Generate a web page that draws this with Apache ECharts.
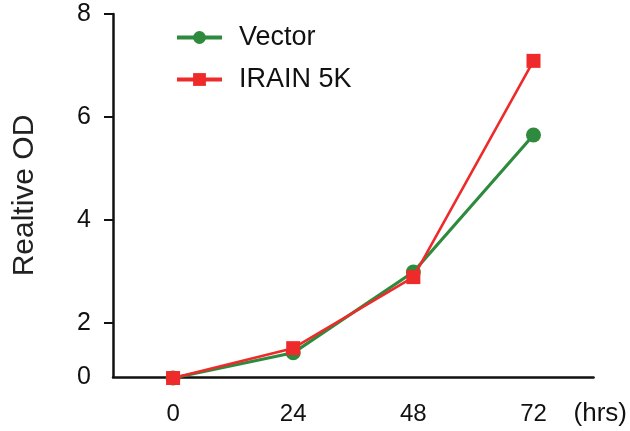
<!DOCTYPE html>
<html>
<head>
<meta charset="utf-8">
<script src="https://cdn.jsdelivr.net/npm/echarts@6/dist/echarts.min.js"></script>
<style>
  html, body { margin: 0; padding: 0; background: #fff; }
  #chart { width: 630px; height: 431px; }
</style>
</head>
<body>
<div id="chart"></div>
<script>
// hours after seeding
const hours = ['0', '24', '48', '72']
// relative OD
const vectorValues = [0.93, 1.42, 2.99, 5.65]
const iraincValues = [0.93, 1.51, 2.89, 7.09]
// y tick labels (bottom of axis is labelled 0)
const yTickValues = [2, 4, 6, 8]
const yAxisBottom = 0.95

const myChart = echarts.init(document.getElementById('chart'))
const option = {
  animation: false,
  grid: {
    left: 113,
    top: 14,
    width: 482,
    height: 363
  },
  legend: {
    orient: 'vertical',
    left: 175,
    top: 24,
    padding: 0,
    itemWidth: 45,
    itemHeight: 16,
    itemGap: 15,
    lineStyle: { width: 4 },
    textStyle: {
      fontFamily: 'Liberation Sans',
      fontSize: 27,
      color: '#111',
      padding: [0, 0, 0, 12]
    },
    data: ['Vector', 'IRAIN 5K']
  },
  xAxis: {
    type: 'category',
    boundaryGap: true,
    data: hours,
    name: '(hrs)',
    nameLocation: 'end',
    nameGap: -20,
    nameTextStyle: {
      fontFamily: 'Liberation Sans',
      fontSize: 26,
      color: '#111',
      align: 'left',
      verticalAlign: 'top',
      padding: [24, 0, 0, 0]
    },
    axisLine: { lineStyle: { color: '#111', width: 2.5 } },
    axisTick: {
      alignWithLabel: true,
      length: 10,
      interval: (i) => i > 0,
      lineStyle: { color: '#111', width: 2 }
    },
    axisLabel: {
      margin: 25,
      fontFamily: 'Liberation Sans',
      fontSize: 24,
      color: '#111'
    },
    splitLine: { show: false }
  },
  yAxis: {
    type: 'value',
    min: yAxisBottom,
    max: 8,
    name: 'Realtive OD',
    nameLocation: 'middle',
    nameGap: 73,
    nameTextStyle: {
      fontFamily: 'Liberation Sans',
      fontSize: 30,
      color: '#222'
    },
    axisLine: { show: true, lineStyle: { color: '#111', width: 2.5 } },
    axisTick: {
      show: true,
      length: 9,
      customValues: yTickValues,
      lineStyle: { color: '#111', width: 2 }
    },
    axisLabel: {
      margin: 22,
      fontFamily: 'Liberation Sans',
      fontSize: 25,
      color: '#111',
      customValues: [yAxisBottom].concat(yTickValues),
      formatter: v => (v < 1 ? '0' : String(v))
    },
    splitLine: { show: false }
  },
  series: [
    {
      name: 'Vector',
      type: 'line',
      data: vectorValues,
      clip: false,
      symbol: 'circle',
      symbolSize: 15,
      lineStyle: { color: '#2e8a3d', width: 3.2 },
      itemStyle: { color: '#2e8a3d' },
      z: 2
    },
    {
      name: 'IRAIN 5K',
      type: 'line',
      data: iraincValues,
      clip: false,
      symbol: 'rect',
      symbolSize: 14,
      lineStyle: { color: '#ee2a2a', width: 2.6 },
      itemStyle: { color: '#ee2a2a' },
      z: 3
    }
  ]
}
myChart.setOption(option)
</script>
</body>
</html>
